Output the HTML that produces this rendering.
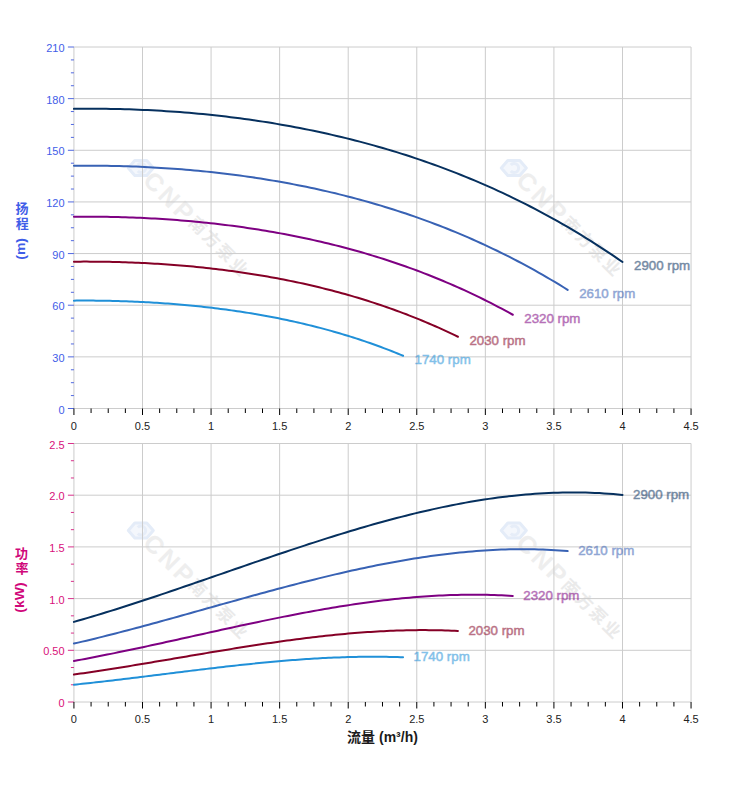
<!DOCTYPE html><html><head><meta charset="utf-8"><style>html,body{margin:0;padding:0;background:#fff;}svg{display:block}</style></head><body>
<svg width="752" height="797" viewBox="0 0 752 797">
<rect width="752" height="797" fill="#fff"/>
<g transform="translate(140.8,168.0)"><path d="M-12.5 0 L-6 -7.5 L6 -7.5 L12.5 0 L6 7.5 L-6 7.5 Z" fill="#f4f7fc" stroke="#e4ecf8" stroke-width="3" stroke-linejoin="round"/><path d="M-3 -3 A4.5 4.5 0 1 1 -3 3" fill="none" stroke="#e6edf8" stroke-width="3"/></g><g transform="translate(140.8,168.0) rotate(45)"><text x="10.5" y="9" style="font-family:'Liberation Sans',Arial,sans-serif;font-size:25px;font-weight:bold;letter-spacing:3px" fill="#eeeeee">CNP</text><text x="72.5" y="6.5" style="font-family:'Noto Sans CJK SC',sans-serif;font-size:17px;font-weight:bold;letter-spacing:2.4px" fill="#eaeaea">南方泵业</text></g>
<g transform="translate(513.8,168.0)"><path d="M-12.5 0 L-6 -7.5 L6 -7.5 L12.5 0 L6 7.5 L-6 7.5 Z" fill="#f4f7fc" stroke="#e4ecf8" stroke-width="3" stroke-linejoin="round"/><path d="M-3 -3 A4.5 4.5 0 1 1 -3 3" fill="none" stroke="#e6edf8" stroke-width="3"/></g><g transform="translate(513.8,168.0) rotate(45)"><text x="10.5" y="9" style="font-family:'Liberation Sans',Arial,sans-serif;font-size:25px;font-weight:bold;letter-spacing:3px" fill="#eeeeee">CNP</text><text x="72.5" y="6.5" style="font-family:'Noto Sans CJK SC',sans-serif;font-size:17px;font-weight:bold;letter-spacing:2.4px" fill="#eaeaea">南方泵业</text></g>
<line x1="73.93" y1="47.00" x2="691.06" y2="47.00" stroke="#cccccc" stroke-width="1"/>
<line x1="73.93" y1="98.64" x2="691.06" y2="98.64" stroke="#cccccc" stroke-width="1"/>
<line x1="73.93" y1="150.29" x2="691.06" y2="150.29" stroke="#cccccc" stroke-width="1"/>
<line x1="73.93" y1="201.93" x2="691.06" y2="201.93" stroke="#cccccc" stroke-width="1"/>
<line x1="73.93" y1="253.57" x2="691.06" y2="253.57" stroke="#cccccc" stroke-width="1"/>
<line x1="73.93" y1="305.21" x2="691.06" y2="305.21" stroke="#cccccc" stroke-width="1"/>
<line x1="73.93" y1="356.86" x2="691.06" y2="356.86" stroke="#cccccc" stroke-width="1"/>
<line x1="73.93" y1="408.50" x2="691.06" y2="408.50" stroke="#cccccc" stroke-width="1"/>
<line x1="73.93" y1="47.00" x2="73.93" y2="408.50" stroke="#cccccc" stroke-width="1"/>
<line x1="142.50" y1="47.00" x2="142.50" y2="408.50" stroke="#cccccc" stroke-width="1"/>
<line x1="211.07" y1="47.00" x2="211.07" y2="408.50" stroke="#cccccc" stroke-width="1"/>
<line x1="279.64" y1="47.00" x2="279.64" y2="408.50" stroke="#cccccc" stroke-width="1"/>
<line x1="348.21" y1="47.00" x2="348.21" y2="408.50" stroke="#cccccc" stroke-width="1"/>
<line x1="416.78" y1="47.00" x2="416.78" y2="408.50" stroke="#cccccc" stroke-width="1"/>
<line x1="485.35" y1="47.00" x2="485.35" y2="408.50" stroke="#cccccc" stroke-width="1"/>
<line x1="553.92" y1="47.00" x2="553.92" y2="408.50" stroke="#cccccc" stroke-width="1"/>
<line x1="622.49" y1="47.00" x2="622.49" y2="408.50" stroke="#cccccc" stroke-width="1"/>
<line x1="691.06" y1="47.00" x2="691.06" y2="408.50" stroke="#cccccc" stroke-width="1"/>
<line x1="67.9" y1="47.00" x2="73.93" y2="47.00" stroke="#5068e0" stroke-width="1"/>
<line x1="70.9" y1="59.91" x2="73.93" y2="59.91" stroke="#5068e0" stroke-width="1"/>
<line x1="70.9" y1="72.82" x2="73.93" y2="72.82" stroke="#5068e0" stroke-width="1"/>
<line x1="70.9" y1="85.73" x2="73.93" y2="85.73" stroke="#5068e0" stroke-width="1"/>
<line x1="67.9" y1="98.64" x2="73.93" y2="98.64" stroke="#5068e0" stroke-width="1"/>
<line x1="70.9" y1="111.55" x2="73.93" y2="111.55" stroke="#5068e0" stroke-width="1"/>
<line x1="70.9" y1="124.46" x2="73.93" y2="124.46" stroke="#5068e0" stroke-width="1"/>
<line x1="70.9" y1="137.38" x2="73.93" y2="137.38" stroke="#5068e0" stroke-width="1"/>
<line x1="67.9" y1="150.29" x2="73.93" y2="150.29" stroke="#5068e0" stroke-width="1"/>
<line x1="70.9" y1="163.20" x2="73.93" y2="163.20" stroke="#5068e0" stroke-width="1"/>
<line x1="70.9" y1="176.11" x2="73.93" y2="176.11" stroke="#5068e0" stroke-width="1"/>
<line x1="70.9" y1="189.02" x2="73.93" y2="189.02" stroke="#5068e0" stroke-width="1"/>
<line x1="67.9" y1="201.93" x2="73.93" y2="201.93" stroke="#5068e0" stroke-width="1"/>
<line x1="70.9" y1="214.84" x2="73.93" y2="214.84" stroke="#5068e0" stroke-width="1"/>
<line x1="70.9" y1="227.75" x2="73.93" y2="227.75" stroke="#5068e0" stroke-width="1"/>
<line x1="70.9" y1="240.66" x2="73.93" y2="240.66" stroke="#5068e0" stroke-width="1"/>
<line x1="67.9" y1="253.57" x2="73.93" y2="253.57" stroke="#5068e0" stroke-width="1"/>
<line x1="70.9" y1="266.48" x2="73.93" y2="266.48" stroke="#5068e0" stroke-width="1"/>
<line x1="70.9" y1="279.39" x2="73.93" y2="279.39" stroke="#5068e0" stroke-width="1"/>
<line x1="70.9" y1="292.30" x2="73.93" y2="292.30" stroke="#5068e0" stroke-width="1"/>
<line x1="67.9" y1="305.21" x2="73.93" y2="305.21" stroke="#5068e0" stroke-width="1"/>
<line x1="70.9" y1="318.12" x2="73.93" y2="318.12" stroke="#5068e0" stroke-width="1"/>
<line x1="70.9" y1="331.04" x2="73.93" y2="331.04" stroke="#5068e0" stroke-width="1"/>
<line x1="70.9" y1="343.95" x2="73.93" y2="343.95" stroke="#5068e0" stroke-width="1"/>
<line x1="67.9" y1="356.86" x2="73.93" y2="356.86" stroke="#5068e0" stroke-width="1"/>
<line x1="70.9" y1="369.77" x2="73.93" y2="369.77" stroke="#5068e0" stroke-width="1"/>
<line x1="70.9" y1="382.68" x2="73.93" y2="382.68" stroke="#5068e0" stroke-width="1"/>
<line x1="70.9" y1="395.59" x2="73.93" y2="395.59" stroke="#5068e0" stroke-width="1"/>
<line x1="67.9" y1="408.50" x2="73.93" y2="408.50" stroke="#5068e0" stroke-width="1"/>
<text x="64.6" y="52.00" text-anchor="end" style="font-family:'Liberation Sans',Arial,sans-serif;font-size:11px" fill="#3f5de8">210</text>
<text x="64.6" y="103.64" text-anchor="end" style="font-family:'Liberation Sans',Arial,sans-serif;font-size:11px" fill="#3f5de8">180</text>
<text x="64.6" y="155.29" text-anchor="end" style="font-family:'Liberation Sans',Arial,sans-serif;font-size:11px" fill="#3f5de8">150</text>
<text x="64.6" y="206.93" text-anchor="end" style="font-family:'Liberation Sans',Arial,sans-serif;font-size:11px" fill="#3f5de8">120</text>
<text x="64.6" y="258.57" text-anchor="end" style="font-family:'Liberation Sans',Arial,sans-serif;font-size:11px" fill="#3f5de8">90</text>
<text x="64.6" y="310.21" text-anchor="end" style="font-family:'Liberation Sans',Arial,sans-serif;font-size:11px" fill="#3f5de8">60</text>
<text x="64.6" y="361.86" text-anchor="end" style="font-family:'Liberation Sans',Arial,sans-serif;font-size:11px" fill="#3f5de8">30</text>
<text x="64.6" y="413.50" text-anchor="end" style="font-family:'Liberation Sans',Arial,sans-serif;font-size:11px" fill="#3f5de8">0</text>
<line x1="73.93" y1="408.50" x2="73.93" y2="415.00" stroke="#000" stroke-width="1"/>
<line x1="91.07" y1="408.50" x2="91.07" y2="413.00" stroke="#000" stroke-width="1"/>
<line x1="108.22" y1="408.50" x2="108.22" y2="413.00" stroke="#000" stroke-width="1"/>
<line x1="125.36" y1="408.50" x2="125.36" y2="413.00" stroke="#000" stroke-width="1"/>
<line x1="142.50" y1="408.50" x2="142.50" y2="415.00" stroke="#000" stroke-width="1"/>
<line x1="159.64" y1="408.50" x2="159.64" y2="413.00" stroke="#000" stroke-width="1"/>
<line x1="176.78" y1="408.50" x2="176.78" y2="413.00" stroke="#000" stroke-width="1"/>
<line x1="193.93" y1="408.50" x2="193.93" y2="413.00" stroke="#000" stroke-width="1"/>
<line x1="211.07" y1="408.50" x2="211.07" y2="415.00" stroke="#000" stroke-width="1"/>
<line x1="228.21" y1="408.50" x2="228.21" y2="413.00" stroke="#000" stroke-width="1"/>
<line x1="245.35" y1="408.50" x2="245.35" y2="413.00" stroke="#000" stroke-width="1"/>
<line x1="262.50" y1="408.50" x2="262.50" y2="413.00" stroke="#000" stroke-width="1"/>
<line x1="279.64" y1="408.50" x2="279.64" y2="415.00" stroke="#000" stroke-width="1"/>
<line x1="296.78" y1="408.50" x2="296.78" y2="413.00" stroke="#000" stroke-width="1"/>
<line x1="313.92" y1="408.50" x2="313.92" y2="413.00" stroke="#000" stroke-width="1"/>
<line x1="331.07" y1="408.50" x2="331.07" y2="413.00" stroke="#000" stroke-width="1"/>
<line x1="348.21" y1="408.50" x2="348.21" y2="415.00" stroke="#000" stroke-width="1"/>
<line x1="365.35" y1="408.50" x2="365.35" y2="413.00" stroke="#000" stroke-width="1"/>
<line x1="382.49" y1="408.50" x2="382.49" y2="413.00" stroke="#000" stroke-width="1"/>
<line x1="399.64" y1="408.50" x2="399.64" y2="413.00" stroke="#000" stroke-width="1"/>
<line x1="416.78" y1="408.50" x2="416.78" y2="415.00" stroke="#000" stroke-width="1"/>
<line x1="433.92" y1="408.50" x2="433.92" y2="413.00" stroke="#000" stroke-width="1"/>
<line x1="451.06" y1="408.50" x2="451.06" y2="413.00" stroke="#000" stroke-width="1"/>
<line x1="468.21" y1="408.50" x2="468.21" y2="413.00" stroke="#000" stroke-width="1"/>
<line x1="485.35" y1="408.50" x2="485.35" y2="415.00" stroke="#000" stroke-width="1"/>
<line x1="502.49" y1="408.50" x2="502.49" y2="413.00" stroke="#000" stroke-width="1"/>
<line x1="519.63" y1="408.50" x2="519.63" y2="413.00" stroke="#000" stroke-width="1"/>
<line x1="536.78" y1="408.50" x2="536.78" y2="413.00" stroke="#000" stroke-width="1"/>
<line x1="553.92" y1="408.50" x2="553.92" y2="415.00" stroke="#000" stroke-width="1"/>
<line x1="571.06" y1="408.50" x2="571.06" y2="413.00" stroke="#000" stroke-width="1"/>
<line x1="588.20" y1="408.50" x2="588.20" y2="413.00" stroke="#000" stroke-width="1"/>
<line x1="605.35" y1="408.50" x2="605.35" y2="413.00" stroke="#000" stroke-width="1"/>
<line x1="622.49" y1="408.50" x2="622.49" y2="415.00" stroke="#000" stroke-width="1"/>
<line x1="639.63" y1="408.50" x2="639.63" y2="413.00" stroke="#000" stroke-width="1"/>
<line x1="656.77" y1="408.50" x2="656.77" y2="413.00" stroke="#000" stroke-width="1"/>
<line x1="673.92" y1="408.50" x2="673.92" y2="413.00" stroke="#000" stroke-width="1"/>
<line x1="691.06" y1="408.50" x2="691.06" y2="415.00" stroke="#000" stroke-width="1"/>
<text x="73.93" y="430.00" text-anchor="middle" style="font-family:'Liberation Sans',Arial,sans-serif;font-size:11px" fill="#222">0</text>
<text x="142.50" y="430.00" text-anchor="middle" style="font-family:'Liberation Sans',Arial,sans-serif;font-size:11px" fill="#222">0.5</text>
<text x="211.07" y="430.00" text-anchor="middle" style="font-family:'Liberation Sans',Arial,sans-serif;font-size:11px" fill="#222">1</text>
<text x="279.64" y="430.00" text-anchor="middle" style="font-family:'Liberation Sans',Arial,sans-serif;font-size:11px" fill="#222">1.5</text>
<text x="348.21" y="430.00" text-anchor="middle" style="font-family:'Liberation Sans',Arial,sans-serif;font-size:11px" fill="#222">2</text>
<text x="416.78" y="430.00" text-anchor="middle" style="font-family:'Liberation Sans',Arial,sans-serif;font-size:11px" fill="#222">2.5</text>
<text x="485.35" y="430.00" text-anchor="middle" style="font-family:'Liberation Sans',Arial,sans-serif;font-size:11px" fill="#222">3</text>
<text x="553.92" y="430.00" text-anchor="middle" style="font-family:'Liberation Sans',Arial,sans-serif;font-size:11px" fill="#222">3.5</text>
<text x="622.49" y="430.00" text-anchor="middle" style="font-family:'Liberation Sans',Arial,sans-serif;font-size:11px" fill="#222">4</text>
<text x="691.06" y="430.00" text-anchor="middle" style="font-family:'Liberation Sans',Arial,sans-serif;font-size:11px" fill="#222">4.5</text>
<path d="M73.93 108.87 L78.54 108.81 L83.15 108.77 L87.76 108.75 L92.37 108.75 L96.98 108.76 L101.59 108.79 L106.20 108.84 L110.81 108.91 L115.42 109.00 L120.03 109.10 L124.64 109.22 L129.25 109.36 L133.86 109.52 L138.47 109.69 L143.08 109.89 L147.69 110.10 L152.30 110.33 L156.91 110.58 L161.52 110.84 L166.12 111.13 L170.73 111.43 L175.34 111.76 L179.95 112.10 L184.56 112.46 L189.17 112.84 L193.78 113.24 L198.39 113.66 L203.00 114.10 L207.61 114.56 L212.22 115.04 L216.83 115.53 L221.44 116.05 L226.05 116.59 L230.66 117.15 L235.27 117.72 L239.88 118.32 L244.49 118.94 L249.10 119.58 L253.71 120.24 L258.32 120.92 L262.93 121.63 L267.54 122.35 L272.15 123.10 L276.76 123.87 L281.37 124.66 L285.98 125.47 L290.59 126.30 L295.20 127.16 L299.81 128.04 L304.42 128.94 L309.03 129.87 L313.64 130.82 L318.25 131.79 L322.86 132.79 L327.47 133.81 L332.08 134.86 L336.69 135.92 L341.30 137.02 L345.91 138.14 L350.51 139.28 L355.12 140.45 L359.73 141.65 L364.34 142.87 L368.95 144.12 L373.56 145.39 L378.17 146.69 L382.78 148.02 L387.39 149.37 L392.00 150.75 L396.61 152.16 L401.22 153.60 L405.83 155.07 L410.44 156.56 L415.05 158.08 L419.66 159.64 L424.27 161.22 L428.88 162.83 L433.49 164.47 L438.10 166.15 L442.71 167.85 L447.32 169.58 L451.93 171.35 L456.54 173.15 L461.15 174.98 L465.76 176.84 L470.37 178.73 L474.98 180.66 L479.59 182.62 L484.20 184.61 L488.81 186.64 L493.42 188.71 L498.03 190.80 L502.64 192.94 L507.25 195.10 L511.86 197.31 L516.47 199.55 L521.08 201.83 L525.69 204.14 L530.30 206.49 L534.90 208.88 L539.51 211.31 L544.12 213.78 L548.73 216.28 L553.34 218.83 L557.95 221.41 L562.56 224.04 L567.17 226.70 L571.78 229.41 L576.39 232.16 L581.00 234.95 L585.61 237.78 L590.22 240.66 L594.83 243.58 L599.44 246.54 L604.05 249.55 L608.66 252.60 L613.27 255.69 L617.88 258.83 L622.49 262.02" fill="none" stroke="#06305e" stroke-width="2" stroke-linecap="round" stroke-linejoin="round"/>
<path d="M73.93 165.80 L78.08 165.75 L82.23 165.72 L86.38 165.70 L90.53 165.70 L94.67 165.71 L98.82 165.74 L102.97 165.78 L107.12 165.83 L111.27 165.90 L115.42 165.99 L119.57 166.08 L123.72 166.20 L127.86 166.32 L132.01 166.47 L136.16 166.62 L140.31 166.79 L144.46 166.98 L148.61 167.18 L152.76 167.40 L156.91 167.63 L161.05 167.88 L165.20 168.14 L169.35 168.42 L173.50 168.71 L177.65 169.02 L181.80 169.34 L185.95 169.68 L190.10 170.04 L194.24 170.41 L198.39 170.79 L202.54 171.20 L206.69 171.62 L210.84 172.05 L214.99 172.50 L219.14 172.97 L223.29 173.46 L227.43 173.96 L231.58 174.48 L235.73 175.01 L239.88 175.56 L244.03 176.13 L248.18 176.72 L252.33 177.32 L256.48 177.95 L260.62 178.59 L264.77 179.25 L268.92 179.92 L273.07 180.62 L277.22 181.33 L281.37 182.06 L285.52 182.81 L289.67 183.58 L293.81 184.37 L297.96 185.17 L302.11 186.00 L306.26 186.85 L310.41 187.71 L314.56 188.60 L318.71 189.51 L322.86 190.43 L327.01 191.38 L331.15 192.35 L335.30 193.34 L339.45 194.35 L343.60 195.38 L347.75 196.43 L351.90 197.51 L356.05 198.61 L360.20 199.73 L364.34 200.87 L368.49 202.03 L372.64 203.22 L376.79 204.43 L380.94 205.66 L385.09 206.92 L389.24 208.20 L393.39 209.51 L397.53 210.84 L401.68 212.19 L405.83 213.57 L409.98 214.98 L414.13 216.41 L418.28 217.86 L422.43 219.34 L426.58 220.85 L430.72 222.39 L434.87 223.95 L439.02 225.54 L443.17 227.15 L447.32 228.80 L451.47 230.47 L455.62 232.17 L459.77 233.89 L463.91 235.65 L468.06 237.44 L472.21 239.25 L476.36 241.09 L480.51 242.97 L484.66 244.87 L488.81 246.81 L492.96 248.78 L497.10 250.77 L501.25 252.80 L505.40 254.87 L509.55 256.96 L513.70 259.09 L517.85 261.24 L522.00 263.44 L526.15 265.66 L530.30 267.92 L534.44 270.22 L538.59 272.55 L542.74 274.91 L546.89 277.31 L551.04 279.75 L555.19 282.22 L559.34 284.73 L563.49 287.27 L567.63 289.85" fill="none" stroke="#3862b4" stroke-width="2" stroke-linecap="round" stroke-linejoin="round"/>
<path d="M73.93 216.74 L77.62 216.70 L81.31 216.68 L84.99 216.66 L88.68 216.66 L92.37 216.67 L96.06 216.69 L99.74 216.72 L103.43 216.76 L107.12 216.82 L110.81 216.88 L114.50 216.96 L118.18 217.05 L121.87 217.15 L125.56 217.26 L129.25 217.39 L132.93 217.52 L136.62 217.67 L140.31 217.83 L144.00 218.00 L147.69 218.18 L151.37 218.38 L155.06 218.59 L158.75 218.80 L162.44 219.04 L166.12 219.28 L169.81 219.54 L173.50 219.80 L177.19 220.08 L180.88 220.38 L184.56 220.68 L188.25 221.00 L191.94 221.33 L195.63 221.68 L199.32 222.03 L203.00 222.40 L206.69 222.79 L210.38 223.18 L214.07 223.59 L217.75 224.01 L221.44 224.45 L225.13 224.90 L228.82 225.37 L232.51 225.84 L236.19 226.33 L239.88 226.84 L243.57 227.36 L247.26 227.89 L250.94 228.44 L254.63 229.01 L258.32 229.58 L262.01 230.18 L265.70 230.78 L269.38 231.41 L273.07 232.05 L276.76 232.70 L280.45 233.37 L284.13 234.05 L287.82 234.75 L291.51 235.47 L295.20 236.20 L298.89 236.95 L302.57 237.71 L306.26 238.50 L309.95 239.29 L313.64 240.11 L317.32 240.94 L321.01 241.79 L324.70 242.66 L328.39 243.54 L332.08 244.44 L335.76 245.36 L339.45 246.30 L343.14 247.26 L346.83 248.23 L350.51 249.23 L354.20 250.24 L357.89 251.27 L361.58 252.32 L365.27 253.39 L368.95 254.48 L372.64 255.59 L376.33 256.72 L380.02 257.87 L383.71 259.04 L387.39 260.24 L391.08 261.45 L394.77 262.68 L398.46 263.94 L402.14 265.21 L405.83 266.51 L409.52 267.83 L413.21 269.17 L416.90 270.54 L420.58 271.93 L424.27 273.34 L427.96 274.77 L431.65 276.23 L435.33 277.71 L439.02 279.22 L442.71 280.75 L446.40 282.30 L450.09 283.88 L453.77 285.48 L457.46 287.11 L461.15 288.76 L464.84 290.44 L468.52 292.15 L472.21 293.88 L475.90 295.64 L479.59 297.43 L483.28 299.24 L486.96 301.08 L490.65 302.95 L494.34 304.84 L498.03 306.77 L501.71 308.72 L505.40 310.70 L509.09 312.71 L512.78 314.75" fill="none" stroke="#7e0082" stroke-width="2" stroke-linecap="round" stroke-linejoin="round"/>
<path d="M73.93 261.68 L77.16 261.65 L80.38 261.63 L83.61 261.62 L86.84 261.62 L90.06 261.63 L93.29 261.64 L96.52 261.67 L99.74 261.70 L102.97 261.74 L106.20 261.79 L109.43 261.85 L112.65 261.92 L115.88 262.00 L119.11 262.08 L122.33 262.18 L125.56 262.28 L128.79 262.40 L132.01 262.52 L135.24 262.65 L138.47 262.79 L141.69 262.94 L144.92 263.10 L148.15 263.26 L151.37 263.44 L154.60 263.63 L157.83 263.82 L161.05 264.03 L164.28 264.24 L167.51 264.47 L170.73 264.70 L173.96 264.95 L177.19 265.20 L180.42 265.46 L183.64 265.74 L186.87 266.02 L190.10 266.31 L193.32 266.62 L196.55 266.93 L199.78 267.25 L203.00 267.59 L206.23 267.93 L209.46 268.29 L212.68 268.65 L215.91 269.03 L219.14 269.42 L222.36 269.82 L225.59 270.22 L228.82 270.64 L232.04 271.08 L235.27 271.52 L238.50 271.97 L241.72 272.44 L244.95 272.91 L248.18 273.40 L251.41 273.90 L254.63 274.41 L257.86 274.94 L261.09 275.47 L264.31 276.02 L267.54 276.58 L270.77 277.16 L273.99 277.74 L277.22 278.34 L280.45 278.95 L283.67 279.58 L286.90 280.21 L290.13 280.86 L293.35 281.53 L296.58 282.20 L299.81 282.89 L303.03 283.60 L306.26 284.32 L309.49 285.05 L312.71 285.80 L315.94 286.56 L319.17 287.33 L322.40 288.12 L325.62 288.93 L328.85 289.75 L332.08 290.58 L335.30 291.43 L338.53 292.30 L341.76 293.18 L344.98 294.07 L348.21 294.99 L351.44 295.91 L354.66 296.86 L357.89 297.82 L361.12 298.80 L364.34 299.79 L367.57 300.80 L370.80 301.83 L374.02 302.87 L377.25 303.94 L380.48 305.02 L383.71 306.11 L386.93 307.23 L390.16 308.36 L393.39 309.52 L396.61 310.69 L399.84 311.88 L403.07 313.09 L406.29 314.31 L409.52 315.56 L412.75 316.83 L415.97 318.11 L419.20 319.42 L422.43 320.75 L425.65 322.09 L428.88 323.46 L432.11 324.85 L435.33 326.26 L438.56 327.69 L441.79 329.14 L445.01 330.61 L448.24 332.11 L451.47 333.62 L454.70 335.16 L457.92 336.73" fill="none" stroke="#850026" stroke-width="2" stroke-linecap="round" stroke-linejoin="round"/>
<path d="M73.93 300.63 L76.70 300.61 L79.46 300.60 L82.23 300.59 L84.99 300.59 L87.76 300.59 L90.53 300.61 L93.29 300.62 L96.06 300.65 L98.82 300.68 L101.59 300.72 L104.35 300.76 L107.12 300.81 L109.89 300.87 L112.65 300.93 L115.42 301.00 L118.18 301.08 L120.95 301.16 L123.72 301.25 L126.48 301.34 L129.25 301.45 L132.01 301.56 L134.78 301.67 L137.54 301.80 L140.31 301.93 L143.08 302.06 L145.84 302.21 L148.61 302.36 L151.37 302.52 L154.14 302.68 L156.91 302.85 L159.67 303.03 L162.44 303.22 L165.20 303.41 L167.97 303.61 L170.73 303.82 L173.50 304.04 L176.27 304.26 L179.03 304.49 L181.80 304.73 L184.56 304.97 L187.33 305.23 L190.10 305.49 L192.86 305.76 L195.63 306.03 L198.39 306.32 L201.16 306.61 L203.92 306.91 L206.69 307.22 L209.46 307.53 L212.22 307.86 L214.99 308.19 L217.75 308.54 L220.52 308.89 L223.29 309.24 L226.05 309.61 L228.82 309.99 L231.58 310.37 L234.35 310.77 L237.12 311.17 L239.88 311.58 L242.65 312.00 L245.41 312.43 L248.18 312.87 L250.94 313.32 L253.71 313.78 L256.48 314.25 L259.24 314.73 L262.01 315.21 L264.77 315.71 L267.54 316.22 L270.31 316.74 L273.07 317.26 L275.84 317.80 L278.60 318.35 L281.37 318.91 L284.13 319.48 L286.90 320.06 L289.67 320.65 L292.43 321.25 L295.20 321.87 L297.96 322.49 L300.73 323.13 L303.50 323.77 L306.26 324.43 L309.03 325.10 L311.79 325.78 L314.56 326.48 L317.32 327.18 L320.09 327.90 L322.86 328.63 L325.62 329.37 L328.39 330.13 L331.15 330.90 L333.92 331.68 L336.69 332.47 L339.45 333.28 L342.22 334.10 L344.98 334.93 L347.75 335.78 L350.51 336.64 L353.28 337.51 L356.05 338.40 L358.81 339.30 L361.58 340.22 L364.34 341.15 L367.11 342.09 L369.88 343.05 L372.64 344.03 L375.41 345.02 L378.17 346.02 L380.94 347.04 L383.71 348.08 L386.47 349.13 L389.24 350.19 L392.00 351.28 L394.77 352.37 L397.53 353.49 L400.30 354.62 L403.07 355.77" fill="none" stroke="#2090d8" stroke-width="2" stroke-linecap="round" stroke-linejoin="round"/>
<text x="633.99" y="270.42" style="font-family:'Liberation Sans',Arial,sans-serif;font-size:13.3px" fill="#06305e" stroke="#06305e" stroke-width="0.5" opacity="0.56">2900 rpm</text>
<text x="579.13" y="298.25" style="font-family:'Liberation Sans',Arial,sans-serif;font-size:13.3px" fill="#3862b4" stroke="#3862b4" stroke-width="0.5" opacity="0.56">2610 rpm</text>
<text x="524.28" y="323.15" style="font-family:'Liberation Sans',Arial,sans-serif;font-size:13.3px" fill="#7e0082" stroke="#7e0082" stroke-width="0.5" opacity="0.56">2320 rpm</text>
<text x="469.42" y="345.13" style="font-family:'Liberation Sans',Arial,sans-serif;font-size:13.3px" fill="#850026" stroke="#850026" stroke-width="0.5" opacity="0.56">2030 rpm</text>
<text x="414.57" y="364.17" style="font-family:'Liberation Sans',Arial,sans-serif;font-size:13.3px" fill="#2090d8" stroke="#2090d8" stroke-width="0.5" opacity="0.56">1740 rpm</text>
<g transform="translate(140.8,530.5)"><path d="M-12.5 0 L-6 -7.5 L6 -7.5 L12.5 0 L6 7.5 L-6 7.5 Z" fill="#f4f7fc" stroke="#e4ecf8" stroke-width="3" stroke-linejoin="round"/><path d="M-3 -3 A4.5 4.5 0 1 1 -3 3" fill="none" stroke="#e6edf8" stroke-width="3"/></g><g transform="translate(140.8,530.5) rotate(45)"><text x="10.5" y="9" style="font-family:'Liberation Sans',Arial,sans-serif;font-size:25px;font-weight:bold;letter-spacing:3px" fill="#eeeeee">CNP</text><text x="72.5" y="6.5" style="font-family:'Noto Sans CJK SC',sans-serif;font-size:17px;font-weight:bold;letter-spacing:2.4px" fill="#eaeaea">南方泵业</text></g>
<g transform="translate(513.8,530.5)"><path d="M-12.5 0 L-6 -7.5 L6 -7.5 L12.5 0 L6 7.5 L-6 7.5 Z" fill="#f4f7fc" stroke="#e4ecf8" stroke-width="3" stroke-linejoin="round"/><path d="M-3 -3 A4.5 4.5 0 1 1 -3 3" fill="none" stroke="#e6edf8" stroke-width="3"/></g><g transform="translate(513.8,530.5) rotate(45)"><text x="10.5" y="9" style="font-family:'Liberation Sans',Arial,sans-serif;font-size:25px;font-weight:bold;letter-spacing:3px" fill="#eeeeee">CNP</text><text x="72.5" y="6.5" style="font-family:'Noto Sans CJK SC',sans-serif;font-size:17px;font-weight:bold;letter-spacing:2.4px" fill="#eaeaea">南方泵业</text></g>
<line x1="73.93" y1="443.50" x2="691.06" y2="443.50" stroke="#cccccc" stroke-width="1"/>
<line x1="73.93" y1="495.20" x2="691.06" y2="495.20" stroke="#cccccc" stroke-width="1"/>
<line x1="73.93" y1="546.90" x2="691.06" y2="546.90" stroke="#cccccc" stroke-width="1"/>
<line x1="73.93" y1="598.60" x2="691.06" y2="598.60" stroke="#cccccc" stroke-width="1"/>
<line x1="73.93" y1="650.30" x2="691.06" y2="650.30" stroke="#cccccc" stroke-width="1"/>
<line x1="73.93" y1="702.00" x2="691.06" y2="702.00" stroke="#cccccc" stroke-width="1"/>
<line x1="73.93" y1="443.50" x2="73.93" y2="702.00" stroke="#cccccc" stroke-width="1"/>
<line x1="142.50" y1="443.50" x2="142.50" y2="702.00" stroke="#cccccc" stroke-width="1"/>
<line x1="211.07" y1="443.50" x2="211.07" y2="702.00" stroke="#cccccc" stroke-width="1"/>
<line x1="279.64" y1="443.50" x2="279.64" y2="702.00" stroke="#cccccc" stroke-width="1"/>
<line x1="348.21" y1="443.50" x2="348.21" y2="702.00" stroke="#cccccc" stroke-width="1"/>
<line x1="416.78" y1="443.50" x2="416.78" y2="702.00" stroke="#cccccc" stroke-width="1"/>
<line x1="485.35" y1="443.50" x2="485.35" y2="702.00" stroke="#cccccc" stroke-width="1"/>
<line x1="553.92" y1="443.50" x2="553.92" y2="702.00" stroke="#cccccc" stroke-width="1"/>
<line x1="622.49" y1="443.50" x2="622.49" y2="702.00" stroke="#cccccc" stroke-width="1"/>
<line x1="691.06" y1="443.50" x2="691.06" y2="702.00" stroke="#cccccc" stroke-width="1"/>
<line x1="67.9" y1="443.50" x2="73.93" y2="443.50" stroke="#d8308a" stroke-width="1"/>
<line x1="70.9" y1="460.73" x2="73.93" y2="460.73" stroke="#d8308a" stroke-width="1"/>
<line x1="70.9" y1="477.97" x2="73.93" y2="477.97" stroke="#d8308a" stroke-width="1"/>
<line x1="67.9" y1="495.20" x2="73.93" y2="495.20" stroke="#d8308a" stroke-width="1"/>
<line x1="70.9" y1="512.43" x2="73.93" y2="512.43" stroke="#d8308a" stroke-width="1"/>
<line x1="70.9" y1="529.67" x2="73.93" y2="529.67" stroke="#d8308a" stroke-width="1"/>
<line x1="67.9" y1="546.90" x2="73.93" y2="546.90" stroke="#d8308a" stroke-width="1"/>
<line x1="70.9" y1="564.13" x2="73.93" y2="564.13" stroke="#d8308a" stroke-width="1"/>
<line x1="70.9" y1="581.37" x2="73.93" y2="581.37" stroke="#d8308a" stroke-width="1"/>
<line x1="67.9" y1="598.60" x2="73.93" y2="598.60" stroke="#d8308a" stroke-width="1"/>
<line x1="70.9" y1="615.83" x2="73.93" y2="615.83" stroke="#d8308a" stroke-width="1"/>
<line x1="70.9" y1="633.07" x2="73.93" y2="633.07" stroke="#d8308a" stroke-width="1"/>
<line x1="67.9" y1="650.30" x2="73.93" y2="650.30" stroke="#d8308a" stroke-width="1"/>
<line x1="70.9" y1="667.53" x2="73.93" y2="667.53" stroke="#d8308a" stroke-width="1"/>
<line x1="70.9" y1="684.77" x2="73.93" y2="684.77" stroke="#d8308a" stroke-width="1"/>
<line x1="67.9" y1="702.00" x2="73.93" y2="702.00" stroke="#d8308a" stroke-width="1"/>
<text x="64.6" y="448.50" text-anchor="end" style="font-family:'Liberation Sans',Arial,sans-serif;font-size:11px" fill="#d8107a">2.5</text>
<text x="64.6" y="500.20" text-anchor="end" style="font-family:'Liberation Sans',Arial,sans-serif;font-size:11px" fill="#d8107a">2.0</text>
<text x="64.6" y="551.90" text-anchor="end" style="font-family:'Liberation Sans',Arial,sans-serif;font-size:11px" fill="#d8107a">1.5</text>
<text x="64.6" y="603.60" text-anchor="end" style="font-family:'Liberation Sans',Arial,sans-serif;font-size:11px" fill="#d8107a">1.0</text>
<text x="64.6" y="655.30" text-anchor="end" style="font-family:'Liberation Sans',Arial,sans-serif;font-size:11px" fill="#d8107a">0.50</text>
<text x="64.6" y="707.00" text-anchor="end" style="font-family:'Liberation Sans',Arial,sans-serif;font-size:11px" fill="#d8107a">0</text>
<line x1="73.93" y1="702.00" x2="73.93" y2="708.50" stroke="#000" stroke-width="1"/>
<line x1="91.07" y1="702.00" x2="91.07" y2="706.50" stroke="#000" stroke-width="1"/>
<line x1="108.22" y1="702.00" x2="108.22" y2="706.50" stroke="#000" stroke-width="1"/>
<line x1="125.36" y1="702.00" x2="125.36" y2="706.50" stroke="#000" stroke-width="1"/>
<line x1="142.50" y1="702.00" x2="142.50" y2="708.50" stroke="#000" stroke-width="1"/>
<line x1="159.64" y1="702.00" x2="159.64" y2="706.50" stroke="#000" stroke-width="1"/>
<line x1="176.78" y1="702.00" x2="176.78" y2="706.50" stroke="#000" stroke-width="1"/>
<line x1="193.93" y1="702.00" x2="193.93" y2="706.50" stroke="#000" stroke-width="1"/>
<line x1="211.07" y1="702.00" x2="211.07" y2="708.50" stroke="#000" stroke-width="1"/>
<line x1="228.21" y1="702.00" x2="228.21" y2="706.50" stroke="#000" stroke-width="1"/>
<line x1="245.35" y1="702.00" x2="245.35" y2="706.50" stroke="#000" stroke-width="1"/>
<line x1="262.50" y1="702.00" x2="262.50" y2="706.50" stroke="#000" stroke-width="1"/>
<line x1="279.64" y1="702.00" x2="279.64" y2="708.50" stroke="#000" stroke-width="1"/>
<line x1="296.78" y1="702.00" x2="296.78" y2="706.50" stroke="#000" stroke-width="1"/>
<line x1="313.92" y1="702.00" x2="313.92" y2="706.50" stroke="#000" stroke-width="1"/>
<line x1="331.07" y1="702.00" x2="331.07" y2="706.50" stroke="#000" stroke-width="1"/>
<line x1="348.21" y1="702.00" x2="348.21" y2="708.50" stroke="#000" stroke-width="1"/>
<line x1="365.35" y1="702.00" x2="365.35" y2="706.50" stroke="#000" stroke-width="1"/>
<line x1="382.49" y1="702.00" x2="382.49" y2="706.50" stroke="#000" stroke-width="1"/>
<line x1="399.64" y1="702.00" x2="399.64" y2="706.50" stroke="#000" stroke-width="1"/>
<line x1="416.78" y1="702.00" x2="416.78" y2="708.50" stroke="#000" stroke-width="1"/>
<line x1="433.92" y1="702.00" x2="433.92" y2="706.50" stroke="#000" stroke-width="1"/>
<line x1="451.06" y1="702.00" x2="451.06" y2="706.50" stroke="#000" stroke-width="1"/>
<line x1="468.21" y1="702.00" x2="468.21" y2="706.50" stroke="#000" stroke-width="1"/>
<line x1="485.35" y1="702.00" x2="485.35" y2="708.50" stroke="#000" stroke-width="1"/>
<line x1="502.49" y1="702.00" x2="502.49" y2="706.50" stroke="#000" stroke-width="1"/>
<line x1="519.63" y1="702.00" x2="519.63" y2="706.50" stroke="#000" stroke-width="1"/>
<line x1="536.78" y1="702.00" x2="536.78" y2="706.50" stroke="#000" stroke-width="1"/>
<line x1="553.92" y1="702.00" x2="553.92" y2="708.50" stroke="#000" stroke-width="1"/>
<line x1="571.06" y1="702.00" x2="571.06" y2="706.50" stroke="#000" stroke-width="1"/>
<line x1="588.20" y1="702.00" x2="588.20" y2="706.50" stroke="#000" stroke-width="1"/>
<line x1="605.35" y1="702.00" x2="605.35" y2="706.50" stroke="#000" stroke-width="1"/>
<line x1="622.49" y1="702.00" x2="622.49" y2="708.50" stroke="#000" stroke-width="1"/>
<line x1="639.63" y1="702.00" x2="639.63" y2="706.50" stroke="#000" stroke-width="1"/>
<line x1="656.77" y1="702.00" x2="656.77" y2="706.50" stroke="#000" stroke-width="1"/>
<line x1="673.92" y1="702.00" x2="673.92" y2="706.50" stroke="#000" stroke-width="1"/>
<line x1="691.06" y1="702.00" x2="691.06" y2="708.50" stroke="#000" stroke-width="1"/>
<text x="73.93" y="722.60" text-anchor="middle" style="font-family:'Liberation Sans',Arial,sans-serif;font-size:11px" fill="#222">0</text>
<text x="142.50" y="722.60" text-anchor="middle" style="font-family:'Liberation Sans',Arial,sans-serif;font-size:11px" fill="#222">0.5</text>
<text x="211.07" y="722.60" text-anchor="middle" style="font-family:'Liberation Sans',Arial,sans-serif;font-size:11px" fill="#222">1</text>
<text x="279.64" y="722.60" text-anchor="middle" style="font-family:'Liberation Sans',Arial,sans-serif;font-size:11px" fill="#222">1.5</text>
<text x="348.21" y="722.60" text-anchor="middle" style="font-family:'Liberation Sans',Arial,sans-serif;font-size:11px" fill="#222">2</text>
<text x="416.78" y="722.60" text-anchor="middle" style="font-family:'Liberation Sans',Arial,sans-serif;font-size:11px" fill="#222">2.5</text>
<text x="485.35" y="722.60" text-anchor="middle" style="font-family:'Liberation Sans',Arial,sans-serif;font-size:11px" fill="#222">3</text>
<text x="553.92" y="722.60" text-anchor="middle" style="font-family:'Liberation Sans',Arial,sans-serif;font-size:11px" fill="#222">3.5</text>
<text x="622.49" y="722.60" text-anchor="middle" style="font-family:'Liberation Sans',Arial,sans-serif;font-size:11px" fill="#222">4</text>
<text x="691.06" y="722.60" text-anchor="middle" style="font-family:'Liberation Sans',Arial,sans-serif;font-size:11px" fill="#222">4.5</text>
<path d="M73.93 621.88 L78.54 620.56 L83.15 619.22 L87.76 617.87 L92.37 616.50 L96.98 615.11 L101.59 613.72 L106.20 612.30 L110.81 610.87 L115.42 609.43 L120.03 607.98 L124.64 606.51 L129.25 605.03 L133.86 603.54 L138.47 602.04 L143.08 600.53 L147.69 599.01 L152.30 597.48 L156.91 595.94 L161.52 594.40 L166.12 592.84 L170.73 591.28 L175.34 589.72 L179.95 588.15 L184.56 586.57 L189.17 584.99 L193.78 583.40 L198.39 581.81 L203.00 580.22 L207.61 578.63 L212.22 577.03 L216.83 575.43 L221.44 573.83 L226.05 572.24 L230.66 570.64 L235.27 569.04 L239.88 567.45 L244.49 565.85 L249.10 564.26 L253.71 562.67 L258.32 561.09 L262.93 559.51 L267.54 557.94 L272.15 556.37 L276.76 554.80 L281.37 553.25 L285.98 551.70 L290.59 550.15 L295.20 548.62 L299.81 547.09 L304.42 545.58 L309.03 544.07 L313.64 542.58 L318.25 541.09 L322.86 539.62 L327.47 538.16 L332.08 536.71 L336.69 535.27 L341.30 533.85 L345.91 532.44 L350.51 531.05 L355.12 529.67 L359.73 528.31 L364.34 526.96 L368.95 525.63 L373.56 524.32 L378.17 523.03 L382.78 521.75 L387.39 520.50 L392.00 519.26 L396.61 518.05 L401.22 516.86 L405.83 515.68 L410.44 514.53 L415.05 513.40 L419.66 512.30 L424.27 511.22 L428.88 510.16 L433.49 509.13 L438.10 508.12 L442.71 507.14 L447.32 506.18 L451.93 505.26 L456.54 504.36 L461.15 503.48 L465.76 502.64 L470.37 501.83 L474.98 501.04 L479.59 500.29 L484.20 499.56 L488.81 498.87 L493.42 498.21 L498.03 497.58 L502.64 496.99 L507.25 496.43 L511.86 495.90 L516.47 495.41 L521.08 494.95 L525.69 494.53 L530.30 494.14 L534.90 493.79 L539.51 493.48 L544.12 493.21 L548.73 492.98 L553.34 492.78 L557.95 492.63 L562.56 492.51 L567.17 492.44 L571.78 492.41 L576.39 492.42 L581.00 492.47 L585.61 492.56 L590.22 492.70 L594.83 492.88 L599.44 493.11 L604.05 493.38 L608.66 493.70 L613.27 494.06 L617.88 494.48 L622.49 494.93" fill="none" stroke="#06305e" stroke-width="2" stroke-linecap="round" stroke-linejoin="round"/>
<path d="M73.93 643.59 L78.08 642.63 L82.23 641.65 L86.38 640.67 L90.53 639.67 L94.67 638.66 L98.82 637.64 L102.97 636.61 L107.12 635.57 L111.27 634.52 L115.42 633.46 L119.57 632.39 L123.72 631.31 L127.86 630.22 L132.01 629.13 L136.16 628.03 L140.31 626.92 L144.46 625.80 L148.61 624.68 L152.76 623.56 L156.91 622.42 L161.05 621.29 L165.20 620.15 L169.35 619.00 L173.50 617.85 L177.65 616.70 L181.80 615.54 L185.95 614.38 L190.10 613.22 L194.24 612.06 L198.39 610.90 L202.54 609.73 L206.69 608.57 L210.84 607.40 L214.99 606.24 L219.14 605.07 L223.29 603.91 L227.43 602.75 L231.58 601.59 L235.73 600.43 L239.88 599.28 L244.03 598.13 L248.18 596.98 L252.33 595.83 L256.48 594.69 L260.62 593.56 L264.77 592.43 L268.92 591.30 L273.07 590.19 L277.22 589.07 L281.37 587.97 L285.52 586.87 L289.67 585.78 L293.81 584.70 L297.96 583.62 L302.11 582.56 L306.26 581.50 L310.41 580.45 L314.56 579.42 L318.71 578.39 L322.86 577.38 L327.01 576.37 L331.15 575.38 L335.30 574.40 L339.45 573.43 L343.60 572.47 L347.75 571.53 L351.90 570.60 L356.05 569.69 L360.20 568.79 L364.34 567.90 L368.49 567.03 L372.64 566.17 L376.79 565.34 L380.94 564.51 L385.09 563.71 L389.24 562.92 L393.39 562.15 L397.53 561.40 L401.68 560.66 L405.83 559.95 L409.98 559.25 L414.13 558.57 L418.28 557.92 L422.43 557.28 L426.58 556.67 L430.72 556.07 L434.87 555.50 L439.02 554.95 L443.17 554.42 L447.32 553.92 L451.47 553.44 L455.62 552.98 L459.77 552.55 L463.91 552.14 L468.06 551.75 L472.21 551.39 L476.36 551.06 L480.51 550.75 L484.66 550.47 L488.81 550.22 L492.96 549.99 L497.10 549.79 L501.25 549.62 L505.40 549.48 L509.55 549.37 L513.70 549.28 L517.85 549.23 L522.00 549.21 L526.15 549.21 L530.30 549.25 L534.44 549.32 L538.59 549.42 L542.74 549.55 L546.89 549.72 L551.04 549.92 L555.19 550.15 L559.34 550.42 L563.49 550.72 L567.63 551.05" fill="none" stroke="#3862b4" stroke-width="2" stroke-linecap="round" stroke-linejoin="round"/>
<path d="M73.93 660.98 L77.62 660.30 L81.31 659.62 L84.99 658.92 L88.68 658.22 L92.37 657.51 L96.06 656.80 L99.74 656.07 L103.43 655.34 L107.12 654.60 L110.81 653.86 L114.50 653.11 L118.18 652.35 L121.87 651.59 L125.56 650.82 L129.25 650.05 L132.93 649.27 L136.62 648.49 L140.31 647.70 L144.00 646.91 L147.69 646.11 L151.37 645.31 L155.06 644.51 L158.75 643.71 L162.44 642.90 L166.12 642.09 L169.81 641.28 L173.50 640.46 L177.19 639.65 L180.88 638.83 L184.56 638.02 L188.25 637.20 L191.94 636.38 L195.63 635.56 L199.32 634.74 L203.00 633.93 L206.69 633.11 L210.38 632.29 L214.07 631.48 L217.75 630.67 L221.44 629.85 L225.13 629.05 L228.82 628.24 L232.51 627.44 L236.19 626.64 L239.88 625.84 L243.57 625.04 L247.26 624.26 L250.94 623.47 L254.63 622.69 L258.32 621.91 L262.01 621.14 L265.70 620.37 L269.38 619.61 L273.07 618.86 L276.76 618.11 L280.45 617.37 L284.13 616.63 L287.82 615.91 L291.51 615.19 L295.20 614.47 L298.89 613.77 L302.57 613.07 L306.26 612.38 L309.95 611.70 L313.64 611.03 L317.32 610.37 L321.01 609.71 L324.70 609.07 L328.39 608.44 L332.08 607.82 L335.76 607.21 L339.45 606.61 L343.14 606.02 L346.83 605.44 L350.51 604.87 L354.20 604.32 L357.89 603.78 L361.58 603.25 L365.27 602.73 L368.95 602.23 L372.64 601.74 L376.33 601.27 L380.02 600.81 L383.71 600.36 L387.39 599.93 L391.08 599.51 L394.77 599.11 L398.46 598.72 L402.14 598.35 L405.83 598.00 L409.52 597.66 L413.21 597.34 L416.90 597.03 L420.58 596.75 L424.27 596.48 L427.96 596.22 L431.65 595.99 L435.33 595.77 L439.02 595.58 L442.71 595.40 L446.40 595.24 L450.09 595.10 L453.77 594.98 L457.46 594.88 L461.15 594.80 L464.84 594.74 L468.52 594.70 L472.21 594.69 L475.90 594.69 L479.59 594.72 L483.28 594.77 L486.96 594.84 L490.65 594.93 L494.34 595.05 L498.03 595.19 L501.71 595.35 L505.40 595.54 L509.09 595.75 L512.78 595.98" fill="none" stroke="#7e0082" stroke-width="2" stroke-linecap="round" stroke-linejoin="round"/>
<path d="M73.93 674.52 L77.16 674.07 L80.38 673.61 L83.61 673.14 L86.84 672.67 L90.06 672.20 L93.29 671.72 L96.52 671.23 L99.74 670.74 L102.97 670.25 L106.20 669.75 L109.43 669.25 L112.65 668.74 L115.88 668.23 L119.11 667.71 L122.33 667.20 L125.56 666.67 L128.79 666.15 L132.01 665.62 L135.24 665.09 L138.47 664.56 L141.69 664.02 L144.92 663.49 L148.15 662.95 L151.37 662.41 L154.60 661.86 L157.83 661.32 L161.05 660.78 L164.28 660.23 L167.51 659.68 L170.73 659.14 L173.96 658.59 L177.19 658.04 L180.42 657.49 L183.64 656.94 L186.87 656.40 L190.10 655.85 L193.32 655.30 L196.55 654.76 L199.78 654.21 L203.00 653.67 L206.23 653.13 L209.46 652.59 L212.68 652.05 L215.91 651.51 L219.14 650.98 L222.36 650.45 L225.59 649.92 L228.82 649.39 L232.04 648.87 L235.27 648.35 L238.50 647.83 L241.72 647.32 L244.95 646.81 L248.18 646.30 L251.41 645.80 L254.63 645.30 L257.86 644.81 L261.09 644.32 L264.31 643.84 L267.54 643.36 L270.77 642.89 L273.99 642.42 L277.22 641.96 L280.45 641.51 L283.67 641.06 L286.90 640.61 L290.13 640.18 L293.35 639.75 L296.58 639.32 L299.81 638.90 L303.03 638.50 L306.26 638.09 L309.49 637.70 L312.71 637.31 L315.94 636.93 L319.17 636.56 L322.40 636.20 L325.62 635.84 L328.85 635.50 L332.08 635.16 L335.30 634.84 L338.53 634.52 L341.76 634.21 L344.98 633.91 L348.21 633.62 L351.44 633.34 L354.66 633.07 L357.89 632.81 L361.12 632.56 L364.34 632.33 L367.57 632.10 L370.80 631.88 L374.02 631.68 L377.25 631.49 L380.48 631.31 L383.71 631.14 L386.93 630.98 L390.16 630.84 L393.39 630.71 L396.61 630.59 L399.84 630.48 L403.07 630.39 L406.29 630.31 L409.52 630.24 L412.75 630.19 L415.97 630.15 L419.20 630.12 L422.43 630.11 L425.65 630.11 L428.88 630.13 L432.11 630.16 L435.33 630.21 L438.56 630.27 L441.79 630.35 L445.01 630.44 L448.24 630.55 L451.47 630.68 L454.70 630.82 L457.92 630.98" fill="none" stroke="#850026" stroke-width="2" stroke-linecap="round" stroke-linejoin="round"/>
<path d="M73.93 684.69 L76.70 684.41 L79.46 684.12 L82.23 683.83 L84.99 683.53 L87.76 683.23 L90.53 682.93 L93.29 682.62 L96.06 682.32 L98.82 682.01 L101.59 681.69 L104.35 681.37 L107.12 681.05 L109.89 680.73 L112.65 680.41 L115.42 680.08 L118.18 679.75 L120.95 679.42 L123.72 679.09 L126.48 678.76 L129.25 678.42 L132.01 678.09 L134.78 677.75 L137.54 677.41 L140.31 677.07 L143.08 676.73 L145.84 676.38 L148.61 676.04 L151.37 675.70 L154.14 675.35 L156.91 675.01 L159.67 674.66 L162.44 674.32 L165.20 673.97 L167.97 673.63 L170.73 673.28 L173.50 672.94 L176.27 672.59 L179.03 672.25 L181.80 671.91 L184.56 671.56 L187.33 671.22 L190.10 670.88 L192.86 670.54 L195.63 670.21 L198.39 669.87 L201.16 669.53 L203.92 669.20 L206.69 668.87 L209.46 668.54 L212.22 668.21 L214.99 667.89 L217.75 667.56 L220.52 667.24 L223.29 666.93 L226.05 666.61 L228.82 666.30 L231.58 665.99 L234.35 665.68 L237.12 665.38 L239.88 665.07 L242.65 664.78 L245.41 664.48 L248.18 664.19 L250.94 663.90 L253.71 663.62 L256.48 663.34 L259.24 663.07 L262.01 662.80 L264.77 662.53 L267.54 662.27 L270.31 662.01 L273.07 661.76 L275.84 661.51 L278.60 661.26 L281.37 661.02 L284.13 660.79 L286.90 660.56 L289.67 660.34 L292.43 660.12 L295.20 659.91 L297.96 659.70 L300.73 659.50 L303.50 659.31 L306.26 659.12 L309.03 658.94 L311.79 658.76 L314.56 658.59 L317.32 658.43 L320.09 658.27 L322.86 658.12 L325.62 657.98 L328.39 657.85 L331.15 657.72 L333.92 657.60 L336.69 657.48 L339.45 657.38 L342.22 657.28 L344.98 657.19 L347.75 657.10 L350.51 657.03 L353.28 656.96 L356.05 656.90 L358.81 656.85 L361.58 656.81 L364.34 656.78 L367.11 656.75 L369.88 656.73 L372.64 656.73 L375.41 656.73 L378.17 656.74 L380.94 656.76 L383.71 656.79 L386.47 656.83 L389.24 656.88 L392.00 656.94 L394.77 657.01 L397.53 657.09 L400.30 657.17 L403.07 657.27" fill="none" stroke="#2090d8" stroke-width="2" stroke-linecap="round" stroke-linejoin="round"/>
<text x="632.99" y="498.73" style="font-family:'Liberation Sans',Arial,sans-serif;font-size:13.3px" fill="#06305e" stroke="#06305e" stroke-width="0.5" opacity="0.56">2900 rpm</text>
<text x="578.13" y="554.85" style="font-family:'Liberation Sans',Arial,sans-serif;font-size:13.3px" fill="#3862b4" stroke="#3862b4" stroke-width="0.5" opacity="0.56">2610 rpm</text>
<text x="523.28" y="599.78" style="font-family:'Liberation Sans',Arial,sans-serif;font-size:13.3px" fill="#7e0082" stroke="#7e0082" stroke-width="0.5" opacity="0.56">2320 rpm</text>
<text x="468.42" y="634.78" style="font-family:'Liberation Sans',Arial,sans-serif;font-size:13.3px" fill="#850026" stroke="#850026" stroke-width="0.5" opacity="0.56">2030 rpm</text>
<text x="413.57" y="661.07" style="font-family:'Liberation Sans',Arial,sans-serif;font-size:13.3px" fill="#2090d8" stroke="#2090d8" stroke-width="0.5" opacity="0.56">1740 rpm</text>
<text x="22" y="212.5" text-anchor="middle" style="font-family:'Liberation Sans','Noto Sans CJK SC',sans-serif;font-weight:bold;font-size:13px" fill="#3f5de8">扬</text>
<text x="22.2" y="227.7" text-anchor="middle" style="font-family:'Liberation Sans','Noto Sans CJK SC',sans-serif;font-weight:bold;font-size:13px" fill="#3f5de8">程</text>
<text transform="translate(24.6,248.9) rotate(-90) scale(1,0.93)" text-anchor="middle" style="font-family:'Liberation Sans','Noto Sans CJK SC',sans-serif;font-weight:bold;font-size:14px" fill="#3f5de8">(m)</text>
<text x="21.5" y="557.9" text-anchor="middle" style="font-family:'Liberation Sans','Noto Sans CJK SC',sans-serif;font-weight:bold;font-size:13px" fill="#d0087a">功</text>
<text x="22" y="572.7" text-anchor="middle" style="font-family:'Liberation Sans','Noto Sans CJK SC',sans-serif;font-weight:bold;font-size:13px" fill="#d0087a">率</text>
<text transform="translate(23.6,597.5) rotate(-90) scale(1,0.86)" text-anchor="middle" style="font-family:'Liberation Sans','Noto Sans CJK SC',sans-serif;font-weight:bold;font-size:14px" fill="#d0087a">(kW)</text>
<text x="382.5" y="742" text-anchor="middle" style="font-family:'Liberation Sans','Noto Sans CJK SC',sans-serif;font-weight:bold;font-size:14px" fill="#1a1a1a">流量 (m³/h)</text>
</svg></body></html>
